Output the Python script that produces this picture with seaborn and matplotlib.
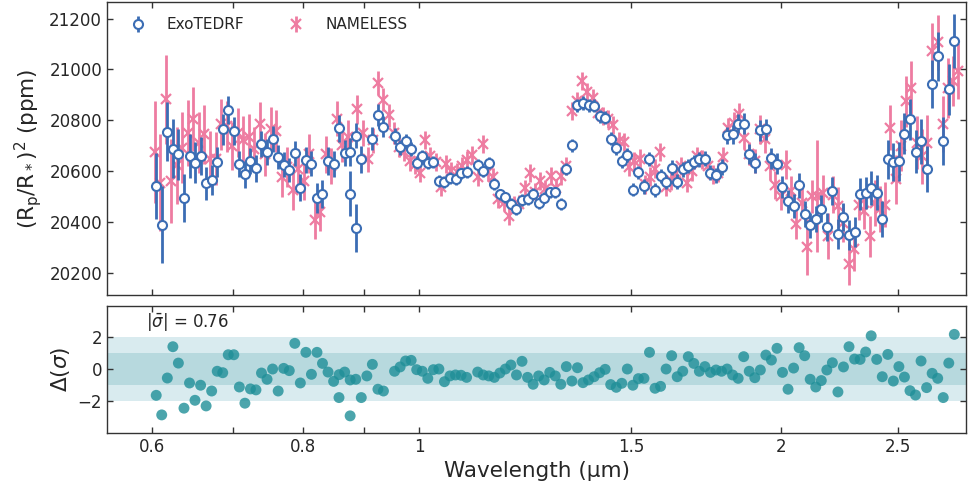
import numpy as np
import matplotlib
matplotlib.use("Agg")
import matplotlib.pyplot as plt
import seaborn as sns
from matplotlib.ticker import FixedLocator, FixedFormatter, NullLocator

nan = np.nan

# ---------------- ExoTEDRF (main grid) ----------------
exo_wave = [
    0.6044, 0.6108, 0.6174, 0.6240, 0.6306, 0.6374, 0.6442, 0.6510, 0.6580, 0.6650,
    0.6721, 0.6793, 0.6865, 0.6938, 0.7012, 0.7087, 0.7163, 0.7239, 0.7316, 0.7394,
    0.7473, 0.7553, 0.7634, 0.7715, 0.7798, 0.7881, 0.7965, 0.8050, 0.8136, 0.8223,
    0.8310, 0.8399, 0.8489, 0.8579, 0.8671, 0.8763, 0.8857, 0.8951, 0.9047, 0.9143,
    0.9241, 0.9339, 0.9439, 0.9540, 0.9642, 0.9744, 0.9848, 0.9953, 1.0060, 1.0167,
    1.0276, 1.0385, 1.0496, 1.0608, 1.0721, 1.0836, 1.0951, 1.1068, 1.1186, 1.1305,
    1.1426, 1.1548, 1.1671, 1.1796, 1.1921, 1.2049, 1.2177, 1.2307, 1.2439, 1.2571,
    1.2705, 1.2841, 1.2978, 1.3116, 1.3256, 1.3398, 1.3541, 1.3685, 1.3831, 1.3979,
    1.4128, 1.4279, 1.4431, 1.4585, 1.4741, 1.4898, 1.5057, 1.5217, 1.5380, 1.5544,
    1.5710, 1.5877, 1.6047, 1.6218, 1.6391, 1.6566, 1.6743, 1.6921, 1.7102, 1.7284,
    1.7469, 1.7655, 1.7844, 1.8034, 1.8226, 1.8421, 1.8617, 1.8816, 1.9017, 1.9220,
    1.9425, 1.9632, 1.9842, 2.0053, 2.0267, 2.0484, 2.0702, 2.0923, 2.1146, 2.1372,
    2.1600, 2.1830, 2.2063, 2.2299, 2.2537, 2.2777, 2.3020, 2.3266, 2.3514, 2.3765,
    2.4018, 2.4275, 2.4534, 2.4795, 2.5060, 2.5327, 2.5598, 2.5871, 2.6147, 2.6426,
    2.6708, 2.6993, 2.7281, 2.7572, 2.7866]
exo_depth = [
    20542, 20391, 20756, 20689, 20668, 20496, 20660, 20634, 20660, 20554,
    20566, 20637, 20765, 20840, 20758, 20630, 20588, 20640, 20612, 20708,
    20676, 20727, 20657, 20627, 20606, 20671, 20536, 20645, 20631, 20496,
    20512, 20639, 20630, 20769, 20673, 20678, 20740, 20647, nan, 20728,
    20822, 20776, nan, 20739, 20695, 20719, 20687, 20634, 20659, 20634,
    20637, 20562, 20558, 20573, 20569, 20592, 20597, nan, 20625, 20601,
    20634, 20552, 20510, 20498, 20473, 20452, 20488, 20492, 20512, 20475,
    20497, 20518, 20518, 20472, 20608, 20702, 20860, 20868, 20860, 20858,
    20816, 20811, 20728, 20690, 20640, 20665, 20529, 20596, 20541, 20648,
    20528, 20583, 20558, 20615, 20560, 20608, 20621, 20637, 20647, 20650,
    20595, 20584, 20617, 20741, 20745, 20788, 20788, 20669, 20634, 20761,
    20765, 20651, 20630, 20538, 20483, 20464, 20545, 20433, 20388, 20414,
    20454, 20381, 20523, 20355, 20420, 20350, 20362, 20512, 20516, 20536,
    20516, 20414, 20647, 20637, 20639, 20748, 20804, 20677, 20719, 20608,
    20942, 21051, 20719, 20922, 21112]
exo_err = [
    130, 150, 115, 115, 100, 95, 85, 80, 75, 65,
    60, 58, 60, 55, 55, 52, 52, 52, 52, 52,
    50, 50, 48, 48, 48, 50, 52, 50, 50, 58,
    55, 55, 52, 52, 50, 55, 50, 52, 45, 45,
    42, 40, 35, 32, 30, 28, 27, 26, 25, 25,
    24, 24, 24, 24, 24, 23, 23, 23, 23, 23,
    23, 23, 22, 22, 22, 22, 22, 22, 22, 22,
    22, 22, 22, 22, 24, 25, 26, 26, 26, 26,
    26, 26, 26, 26, 26, 27, 27, 27, 28, 28,
    28, 28, 28, 28, 28, 28, 28, 28, 29, 29,
    30, 30, 32, 34, 36, 38, 40, 40, 40, 40,
    40, 42, 42, 44, 46, 48, 49, 50, 50, 52,
    52, 54, 56, 58, 55, 58, 60, 62, 64, 66,
    68, 70, 75, 76, 78, 80, 80, 85, 88, 90,
    95, 95, 95, 100, 105]

# ExoTEDRF points in the order-overlap region
exo_ovl_wave = [0.8762, 0.8853]
exo_ovl_depth = [20512, 20377]
exo_ovl_err = [88, 95]

# ---------------- NAMELESS ----------------
nam_wave = [
    0.6028, 0.6092, 0.6157, 0.6222, 0.6288, 0.6355, 0.6423, 0.6491, 0.6560, 0.6629,
    0.6700, 0.6771, 0.6843, 0.6916, 0.6989, 0.7063, 0.7139, 0.7214, 0.7291, 0.7369,
    0.7447, 0.7526, 0.7606, 0.7687, 0.7768, 0.7851, 0.7934, 0.8019, 0.8104, 0.8190,
    0.8277, 0.8365, 0.8454, 0.8544, 0.8634, 0.8726,
    0.8883, 0.8972, 0.9063, 0.9154, 0.9246, 0.9339, 0.9433, 0.9528, 0.9624, 0.9720,
    0.9818, 0.9917, 1.0017, 1.0118, 1.0219, 1.0322, 1.0426, 1.0531, 1.0637, 1.0744,
    1.0852, 1.0961, 1.1071, 1.1183, 1.1295, 1.1409, 1.1524, 1.1640, 1.1757, 1.1875,
    1.1995, 1.2115, 1.2237, 1.2360, 1.2485, 1.2610, 1.2737, 1.2865, 1.2995, 1.3125,
    1.3257, 1.3391, 1.3525, 1.3662, 1.3799, 1.3938, 1.4078, 1.4220, 1.4363, 1.4507,
    1.4653, 1.4801, 1.4949, 1.5100, 1.5252, 1.5405, 1.5560, 1.5717, 1.5875, 1.6035,
    1.6196, 1.6359, 1.6523, 1.6690, 1.6858, 1.7027, 1.7198, 1.7371, 1.7546, 1.7723,
    1.7901, 1.8081, 1.8263, 1.8447, 1.8632, 1.8820, 1.9009, 1.9200, 1.9394, 1.9589,
    1.9786, 1.9985, 2.0186, 2.0389, 2.0594, 2.0801, 2.1011, 2.1222, 2.1435, 2.1651,
    2.1869, 2.2089, 2.2311, 2.2536, 2.2762, 2.2991, 2.3223, 2.3456, 2.3692, 2.3931,
    2.4171, 2.4414, 2.4660, 2.4908, 2.5159, 2.5412, 2.5667, 2.5926, 2.6187, 2.6450,
    2.6716, 2.6985, 2.7256, 2.7531, 2.7808, 2.8087]
nam_depth = [
    20675, 20556, 20883, 20563, 20624, 20693, 20752, 20807, 20713, 20745,
    20647, 20650, 20785, 20778, 20699, 20752, 20725, 20735, 20686, 20785,
    20667, 20766, 20758, 20578, 20617, 20526, 20608, 20562, 20670, 20408,
    20440, 20667, 20622, 20807, 20703, 20735,
    20843, 20750, 20647, 20722, 20947, 20881, 20820, 20750, 20697, 20678,
    20641, 20624, 20595, 20724, 20660, 20638, 20540, 20630, 20600, 20598,
    20621, 20645, 20665, 20578, 20708, 20598, 20580, 20490, 20477, 20425,
    20470, 20473, 20534, 20594, 20520, 20562, 20532, 20582, 20536, 20582,
    20621, 20837, 20876, 20955, 20912, 20890, 20831, 20818, 20806, 20783,
    20720, 20714, 20618, 20642, 20650, 20549, 20580, 20611, 20676, 20539,
    20565, 20595, 20621, 20555, 20601, 20660, 20647, 20621, 20588, 20595,
    20656, 20771, 20791, 20824, 20732, 20670, 20640, 20765, 20726, 20621,
    20545, 20503, 20627, 20523, 20394, 20477, 20302, 20503, 20503, 20516,
    20346, 20509, 20464, 20398, 20238, 20296, 20470, 20444, 20346, 20477,
    20451, 20470, 20772, 20569, 20700, 20876, 20929, 20713, 20660, 20710,
    21073, 21106, 20785, 20929, 20955, 20994]
nam_err = [
    200, 190, 175, 165, 150, 140, 130, 125, 120, 115,
    110, 105, 100, 100, 95, 95, 92, 90, 90, 88,
    85, 85, 82, 80, 80, 78, 78, 76, 75, 75,
    72, 72, 70, 68, 68, 66,
    55, 52, 50, 48, 48, 45, 45, 42, 40, 38,
    38, 36, 36, 36, 35, 35, 35, 35, 35, 35,
    35, 35, 35, 35, 35, 35, 34, 34, 34, 34,
    34, 34, 34, 34, 34, 34, 34, 34, 34, 34,
    34, 35, 35, 35, 35, 35, 35, 35, 35, 35,
    35, 35, 36, 36, 36, 36, 36, 36, 36, 36,
    36, 36, 36, 37, 37, 37, 38, 38, 38, 38,
    38, 40, 42, 45, 45, 45, 46, 58, 55, 55,
    55, 56, 56, 58, 58, 60, 110, 65, 220, 70,
    90, 72, 75, 75, 82, 85, 60, 70, 80, 90,
    90, 90, 88, 95, 100, 100, 105, 105, 108, 110,
    108, 108, 110, 118, 98, 111]

# ---------------- residuals (on the ExoTEDRF grid) ----------------
res_sigma = [
    -1.62, -2.84, -0.54, 1.41, 0.39, -2.42, -0.85, -1.93, -0.99, -2.28,
    -1.35, -0.12, -0.21, 0.91, 0.91, -1.10, -2.11, -1.22, -1.28, -0.23,
    -0.62, 0.02, -1.35, 0.06, -0.08, 1.62, -0.85, 1.06, -0.31, 1.06,
    0.37, -0.17, -0.75, -0.33, -0.17, -0.66, -0.62, -1.76, -0.41, 0.31,
    -1.24, -1.35, nan, -0.12, 0.15, 0.52, 0.56, -0.02, -0.12, -0.56,
    -0.02, 0.02, -0.77, -0.41, -0.35, -0.37, -0.50, nan, -0.17, -0.35,
    -0.41, -0.50, -0.23, 0.02, 0.27, -0.35, 0.50, -0.50, -0.93, -0.41,
    -0.66, -0.19, -0.41, -0.93, 0.17, -0.73, 0.10, -0.83, -0.66, -0.46,
    -0.21, 0.00, -0.95, -1.12, -0.87, 0.02, -0.99, -0.58, -0.56, 1.06,
    -1.18, -1.06, 0.02, 0.85, -0.46, -0.12, 0.79, 0.37, -0.12, 0.17,
    -0.19, -0.04, -0.12, 0.02, -0.35, -0.56, 0.79, -0.12, -0.52, -0.04,
    0.89, 0.58, 1.31, -0.19, -1.24, 0.08, 1.35, 0.85, -0.62, -1.10,
    -0.70, -0.04, 0.41, -1.41, 0.15, 1.41, 0.64, 0.62, 1.08, 2.09,
    0.62, -0.46, 0.93, -0.73, 0.17, -0.48, -1.33, -1.60, 0.52, -1.14,
    -0.25, -0.56, -1.76, 0.39, 2.18]
res_ovl_wave = [0.8577, 0.8762]
res_ovl_sigma = [-1.76, -2.90]
mean_abs_sigma = 0.76

x_ticks = [0.6, 0.7, 0.8, 0.9, 1.0, 1.5, 2.0, 2.5]
x_ticklabels = ["0.6", "", "0.8", "", "1", "1.5", "2", "2.5"]
y_ticks_top = [20200, 20400, 20600, 20800, 21000, 21200]
y_ticks_bot = [-2, 0, 2]

# ---------------- plotting ----------------
sns.set_theme(style="ticks")
plt.rcParams["font.family"] = ["DejaVu Sans"]
plt.rcParams["axes.edgecolor"] = "#333333"
plt.rcParams["axes.linewidth"] = 1.0

BLUE = "#3b6db4"
PINK = "#ee7ca1"
TEAL = "#1f8f98"

fig = plt.figure(figsize=(9.68, 4.88), dpi=100)
ax1 = fig.add_axes([0.1105, 0.3955, 0.8875, 0.6005])
ax2 = fig.add_axes([0.1105, 0.1133, 0.8875, 0.2597])

h_nam = ax1.errorbar(nam_wave, nam_depth, yerr=nam_err, fmt="x", color=PINK,
                     ecolor=PINK, ms=6.5, mew=1.6, elinewidth=2.0, capsize=0,
                     zorder=2)
exo_all_w = list(exo_wave) + list(exo_ovl_wave)
exo_all_d = list(exo_depth) + list(exo_ovl_depth)
exo_all_e = list(exo_err) + list(exo_ovl_err)
h_exo = ax1.errorbar(exo_all_w, exo_all_d, yerr=exo_all_e, fmt="o", mfc="white",
                     mec=BLUE, ecolor=BLUE, ms=6.5, mew=1.5, elinewidth=2.0,
                     capsize=0, zorder=3)

ax1.legend([h_exo, h_nam], ["ExoTEDRF", "NAMELESS"], loc="upper left", ncol=2,
           frameon=False, fontsize=11, columnspacing=2.4, handletextpad=0.9,
           bbox_to_anchor=(0.0, 1.0), borderaxespad=0.6)

ax2.axhspan(-2, 2, color="#d9ebef", zorder=0, lw=0)
ax2.axhspan(-1, 1, color="#b7d9de", zorder=0.5, lw=0)
sns.scatterplot(x=list(exo_wave) + res_ovl_wave, y=list(res_sigma) + res_ovl_sigma,
                ax=ax2, color=TEAL, s=62, alpha=0.8, edgecolor="none",
                legend=False, zorder=3)
ax2.text(0.045, 0.87, r"$|\bar{\sigma}|$ = %.2f" % mean_abs_sigma,
         transform=ax2.transAxes, fontsize=12, va="center", ha="left")

for ax in (ax1, ax2):
    ax.set_xscale("log")
    ax.set_xlim(0.55, 2.85)
    ax.xaxis.set_major_locator(FixedLocator(x_ticks))
    ax.xaxis.set_major_formatter(FixedFormatter(x_ticklabels))
    ax.xaxis.set_minor_locator(NullLocator())
    ax.yaxis.set_minor_locator(NullLocator())
    ax.tick_params(direction="in", top=True, right=True, length=4, width=1,
                   labelsize=12, color="#333333")

ax1.set_ylim(20115, 21265)
ax1.set_yticks(y_ticks_top)
ax1.tick_params(labelbottom=False)
ax1.set_ylabel(r"(R$_\mathrm{p}$/R$_*$)$^2$ (ppm)", fontsize=15.5)

ax2.set_ylim(-3.95, 3.95)
ax2.set_yticks(y_ticks_bot)
ax2.set_ylabel(r"$\Delta(\sigma)$", fontsize=15.5)
ax2.set_xlabel("Wavelength (µm)", fontsize=15.5)

fig.savefig("out.png", dpi=100)
